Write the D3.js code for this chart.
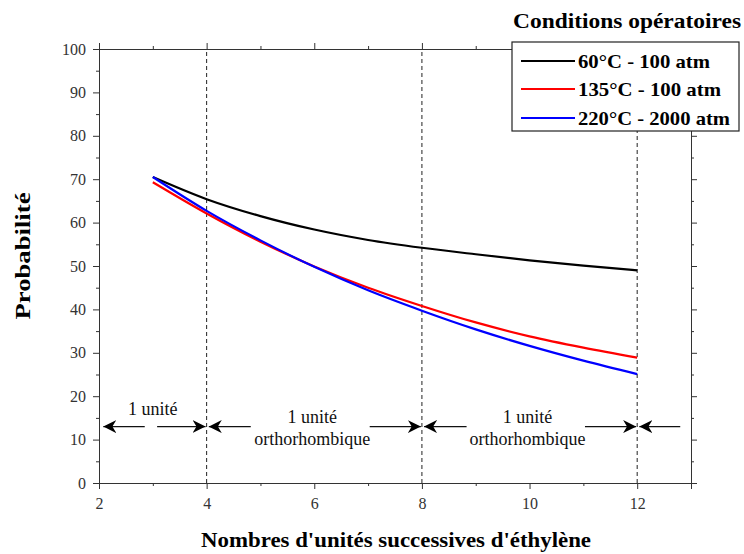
<!DOCTYPE html>
<html><head><meta charset="utf-8">
<script src="https://cdn.jsdelivr.net/npm/d3@7"></script>
<style>body{margin:0;background:#fff}svg{display:block}text{font-family:"Liberation Serif","Times New Roman",serif}</style>
</head><body><svg id="c" width="744" height="554"></svg>
<script>
const xs = [3,4,5,6,7,8,9,10,11,12];
const black = [70.5,65.4,61.5,58.4,56.0,54.2,52.7,51.3,50.1,49.0];
const red   = [69.3,62.1,55.6,49.9,45.0,40.8,37.0,33.8,31.2,28.9];
const blue  = [70.5,62.7,55.9,49.8,44.4,39.7,35.4,31.6,28.2,25.1];
const seriesNames = ["60°C - 100 atm","135°C - 100 atm","220°C - 2000 atm"];
const seriesColors = ["#000000","#ff0000","#0000ff"];
const xTicks = [2,4,6,8,10,12];
const yTicks = [0,10,20,30,40,50,60,70,80,90,100];
const dividers = [4,8,12];
const arrowY = 13;

const svg = d3.select("#c");
const x = d3.scaleLinear().domain([2,13]).range([99,691]);
const y = d3.scaleLinear().domain([0,100]).range([483,49]);

// dashed dividers
svg.selectAll(".div").data(dividers).enter().append("line")
  .attr("x1",d=>x(d)).attr("x2",d=>x(d)).attr("y1",y(0)).attr("y2",y(100))
  .attr("stroke","#222").attr("stroke-width",1).attr("stroke-dasharray","4,3");

// axes
const axStyle = g=>{g.selectAll("path").attr("stroke","#333");g.selectAll("line").attr("stroke","#333");
  g.selectAll("text").attr("font-size","16px").attr("fill","#333").attr("font-family","Liberation Sans, Arial, sans-serif");};
const minorX = d3.range(3,13,2), minorY = d3.range(5,100,10);
svg.append("g").attr("transform",`translate(0,${y(0)})`)
  .call(d3.axisBottom(x).tickValues(xTicks).tickSize(6).tickPadding(9).tickFormat(d3.format("d"))).call(axStyle);
svg.append("g").attr("transform",`translate(0,${y(0)})`)
  .call(d3.axisBottom(x).tickValues(minorX).tickSize(3).tickFormat("")).call(axStyle);
svg.append("g").attr("transform",`translate(0,${y(100)})`)
  .call(d3.axisTop(x).tickValues(xTicks).tickSize(6).tickFormat("")).call(axStyle);
svg.append("g").attr("transform",`translate(0,${y(100)})`)
  .call(d3.axisTop(x).tickValues(minorX).tickSize(3).tickFormat("")).call(axStyle);
svg.append("g").attr("transform",`translate(${x(2)},0)`)
  .call(d3.axisLeft(y).tickValues(yTicks).tickSize(6).tickPadding(7)).call(axStyle);
svg.append("g").attr("transform",`translate(${x(2)},0)`)
  .call(d3.axisLeft(y).tickValues(minorY).tickSize(3).tickFormat("")).call(axStyle);
svg.append("g").attr("transform",`translate(${x(13)},0)`)
  .call(d3.axisRight(y).tickValues(yTicks).tickSize(6).tickFormat("")).call(axStyle);
svg.append("g").attr("transform",`translate(${x(13)},0)`)
  .call(d3.axisRight(y).tickValues(minorY).tickSize(3).tickFormat("")).call(axStyle);
svg.selectAll(".domain").attr("stroke","#333");

// lines
const line = d3.line().x((d,i)=>x(xs[i])).y(d=>y(d)).curve(d3.curveMonotoneX);
[black,red,blue].forEach((s,i)=>{
  svg.append("path").datum(s).attr("d",line).attr("fill","none")
    .attr("stroke",seriesColors[i]).attr("stroke-width",2.2);
});

// arrows
const defs = svg.append("defs");
defs.append("marker").attr("id","ah").attr("viewBox","0 0 10 10").attr("refX",10).attr("refY",5)
  .attr("markerWidth",13).attr("markerHeight",13).attr("markerUnits","userSpaceOnUse").attr("orient","auto")
  .append("path").attr("d","M0,0 L10,5 L0,10 L3,5 Z").attr("fill","#000");
const arrows = [[2.85,2.08],[3.08,3.98],[4.82,4.04],[7.03,7.98],[8.83,8.04],[11.03,11.98],[12.8,12.04]];
arrows.forEach(a=>{
  svg.append("line").attr("x1",x(a[0])).attr("x2",x(a[1])).attr("y1",y(arrowY)).attr("y2",y(arrowY))
    .attr("stroke","#111").attr("stroke-width",1.4).attr("marker-end","url(#ah)");
});
const labels = [[3,415,"1 unité"],[6,423,"1 unité"],[6,445,"orthorhombique"],[10,423,"1 unité"],[10,445,"orthorhombique"]];
labels.forEach(l=>{
  svg.append("text").attr("x",x(l[0])-(l[0]===3?0:2)).attr("y",l[1]).attr("text-anchor","middle")
    .attr("font-size","18px").attr("fill","#111").text(l[2]);
});

// axis titles
svg.append("text").attr("transform","translate(30,256) rotate(-90)").attr("text-anchor","middle")
  .attr("font-size","20px").attr("font-weight","bold")
  .attr("textLength",127).attr("lengthAdjust","spacingAndGlyphs").text("Probabilité");
svg.append("text").attr("x",396).attr("y",547).attr("text-anchor","middle")
  .attr("font-size","20px").attr("font-weight","bold")
  .attr("textLength",390).attr("lengthAdjust","spacingAndGlyphs").text("Nombres d'unités successives d'éthylène");

// legend
svg.append("text").attr("x",627).attr("y",28).attr("text-anchor","middle")
  .attr("font-size","20px").attr("font-weight","bold")
  .attr("textLength",228).attr("lengthAdjust","spacingAndGlyphs").text("Conditions opératoires");
svg.append("rect").attr("x",512).attr("y",42).attr("width",227).attr("height",89)
  .attr("fill","#fff").attr("stroke","#222").attr("stroke-width",1.2);
const ly = [61,89,118];
const lw = [132,143,152];
seriesNames.forEach((n,i)=>{
  svg.append("line").attr("x1",521).attr("x2",575).attr("y1",ly[i]).attr("y2",ly[i])
    .attr("stroke",seriesColors[i]).attr("stroke-width",2.2);
  svg.append("text").attr("x",578).attr("y",ly[i]+7).attr("font-size","19px").attr("font-weight","bold")
    .attr("textLength",lw[i]).attr("lengthAdjust","spacingAndGlyphs").text(n);
});
</script></body></html>
